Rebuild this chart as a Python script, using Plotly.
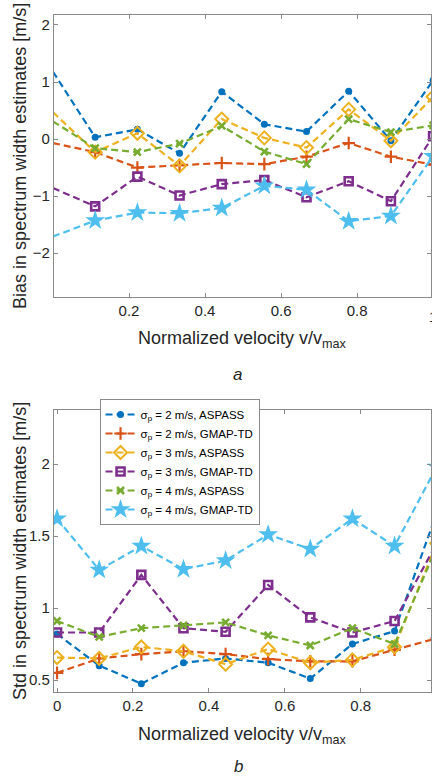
import plotly.graph_objects as go

# Normalized velocity v/vmax at which the estimators were evaluated
velocity = [0.0, 0.111, 0.222, 0.333, 0.444, 0.556, 0.667, 0.778, 0.889, 1.0]

# Bias in spectrum width estimates [m/s]
bias_aspass_2 = [1.18, 0.03, 0.17, -0.25, 0.83, 0.26, 0.13, 0.84, -0.03, 1.03]
bias_gmap_2 = [-0.07, -0.23, -0.50, -0.46, -0.42, -0.44, -0.31, -0.07, -0.31, -0.45]
bias_aspass_3 = [0.47, -0.23, 0.10, -0.47, 0.35, 0.02, -0.15, 0.52, -0.03, 0.74]
bias_gmap_3 = [-0.86, -1.18, -0.66, -0.99, -0.79, -0.72, -1.02, -0.74, -1.09, 0.05]
bias_aspass_4 = [0.31, -0.16, -0.23, -0.08, 0.23, -0.22, -0.44, 0.35, 0.12, 0.24]
bias_gmap_4 = [-1.71, -1.43, -1.29, -1.30, -1.21, -0.82, -0.89, -1.44, -1.35, -0.30]

# Std in spectrum width estimates [m/s]
std_aspass_2 = [0.82, 0.60, 0.475, 0.62, 0.65, 0.62, 0.51, 0.75, 0.84, 1.66]
std_gmap_2 = [0.55, 0.65, 0.68, 0.70, 0.68, 0.645, 0.63, 0.63, 0.71, 0.79]
std_aspass_3 = [0.656, 0.65, 0.73, 0.70, 0.61, 0.715, 0.62, 0.64, 0.73, 1.45]
std_gmap_3 = [0.83, 0.83, 1.23, 0.86, 0.835, 1.16, 0.935, 0.83, 0.91, 1.45]
std_aspass_4 = [0.91, 0.80, 0.86, 0.88, 0.90, 0.81, 0.74, 0.86, 0.75, 1.42]
std_gmap_4 = [1.62, 1.265, 1.43, 1.27, 1.33, 1.51, 1.41, 1.62, 1.43, 1.98]

series_names = [
    "σ<sub>p</sub> = 2 m/s, ASPASS",
    "σ<sub>p</sub> = 2 m/s, GMAP-TD",
    "σ<sub>p</sub> = 3 m/s, ASPASS",
    "σ<sub>p</sub> = 3 m/s, GMAP-TD",
    "σ<sub>p</sub> = 4 m/s, ASPASS",
    "σ<sub>p</sub> = 4 m/s, GMAP-TD",
]
bias_series = [bias_aspass_2, bias_gmap_2, bias_aspass_3, bias_gmap_3, bias_aspass_4, bias_gmap_4]
std_series = [std_aspass_2, std_gmap_2, std_aspass_3, std_gmap_3, std_aspass_4, std_gmap_4]

top_xticks = [0.2, 0.4, 0.6, 0.8]
bottom_xticks = [0.0, 0.2, 0.4, 0.6, 0.8]
top_yticks = [-2, -1, 0, 1, 2]
bottom_yticks = [0.5, 1, 1.5, 2]

colors = ["#0072BD", "#D95319", "#EDB120", "#7E2F8E", "#77AC30", "#4DBEEE"]
markers = [
    dict(symbol="circle", size=7),
    dict(symbol="cross-thin-open", size=9, line=dict(width=2.2)),
    dict(symbol="diamond-open", size=10, line=dict(width=2)),
    dict(symbol="square-open", size=8, line=dict(width=2.6)),
    dict(symbol="x-thin-open", size=7, line=dict(width=2.6)),
    dict(symbol="star", size=15, line=dict(width=0)),
]

W, H = 432, 776
TEXT = "#262626"
AXIS = "#8a8a8a"
FONT = "Liberation Sans, Arial, sans-serif"
DASH = "7px,4px"


def marker_for(i, hide_first=False):
    mk = dict(markers[i])
    mk["color"] = colors[i]
    if "line" in mk:
        mk["line"] = dict(mk["line"], color=colors[i])
    if hide_first:
        # the upper panel starts right at v = 0, so its first marker sits under the axis
        mk["opacity"] = [0] + [1] * (len(velocity) - 1)
    return mk


fig = go.Figure()

for i in range(6):
    fig.add_trace(go.Scatter(
        x=velocity, y=bias_series[i], mode="lines+markers", name=series_names[i],
        line=dict(color=colors[i], width=2.2, dash=DASH), marker=marker_for(i, True),
        xaxis="x", yaxis="y", showlegend=False,
    ))
for i in range(6):
    fig.add_trace(go.Scatter(
        x=velocity, y=std_series[i], mode="lines+markers", name=series_names[i],
        line=dict(color=colors[i], width=2.2, dash=DASH), marker=marker_for(i),
        xaxis="x2", yaxis="y2", showlegend=True,
    ))


def px_x(p):
    return p / W


def px_y(p):
    return 1 - p / H


axis_common = dict(
    showline=True, linecolor=AXIS, linewidth=1, mirror="ticks",
    ticks="inside", ticklen=4, tickcolor=AXIS, showgrid=False, zeroline=False,
    tickfont=dict(family=FONT, size=15, color=TEXT),
)

fig.update_layout(
    width=W, height=H,
    margin=dict(l=0, r=0, t=0, b=0),
    paper_bgcolor="white", plot_bgcolor="white",
    font=dict(family=FONT, color=TEXT),
    xaxis=dict(axis_common, domain=[px_x(53), 1], range=[0.002, 0.9945],
               tickvals=top_xticks, ticktext=["0.2", "0.4", "0.6", "0.8"], anchor="y"),
    yaxis=dict(axis_common, domain=[px_y(297), px_y(15)], range=[-2.77, 2.175],
               tickvals=top_yticks, anchor="x"),
    xaxis2=dict(axis_common, domain=[px_x(53), 1], range=[-0.0087, 0.985],
                tickvals=bottom_xticks, ticktext=["0", "0.2", "0.4", "0.6", "0.8"], anchor="y2"),
    yaxis2=dict(axis_common, domain=[px_y(692), px_y(410)], range=[0.417, 2.375],
                tickvals=bottom_yticks, ticktext=["0.5", "1", "1.5", "2"], anchor="x2"),
    legend=dict(
        x=px_x(99), y=px_y(399), xanchor="left", yanchor="top",
        bgcolor="white", bordercolor=AXIS, borderwidth=1,
        font=dict(family=FONT, size=11.5, color="#000000"),
        tracegroupgap=0,
    ),
)

annotations = [
    # axis titles
    dict(text="Bias in spectrum width estimates [m/s]", x=px_x(19), y=px_y(156),
         textangle=-90, size=18),
    dict(text="Std in spectrum width estimates [m/s]", x=px_x(19), y=px_y(551),
         textangle=-90, size=18),
    dict(text="Normalized velocity v/v<sub>max</sub>", x=px_x(243), y=px_y(339), size=18),
    dict(text="Normalized velocity v/v<sub>max</sub>", x=px_x(243), y=px_y(735), size=18),
    # panel labels
    dict(text="<i>a</i>", x=px_x(238), y=px_y(374), size=17),
    dict(text="<i>b</i>", x=px_x(239), y=px_y(766), size=17),
    # last x tick of the upper panel, sitting at the page edge
    dict(text="1", x=px_x(434), y=px_y(316), size=15),
]
fig.update_layout(annotations=[
    dict(xref="paper", yref="paper", xanchor="center", yanchor="middle",
         showarrow=False, text=a["text"], x=a["x"], y=a["y"],
         textangle=a.get("textangle", 0),
         font=dict(family=FONT, size=a["size"], color=TEXT))
    for a in annotations
])

fig.write_html("out.html")
